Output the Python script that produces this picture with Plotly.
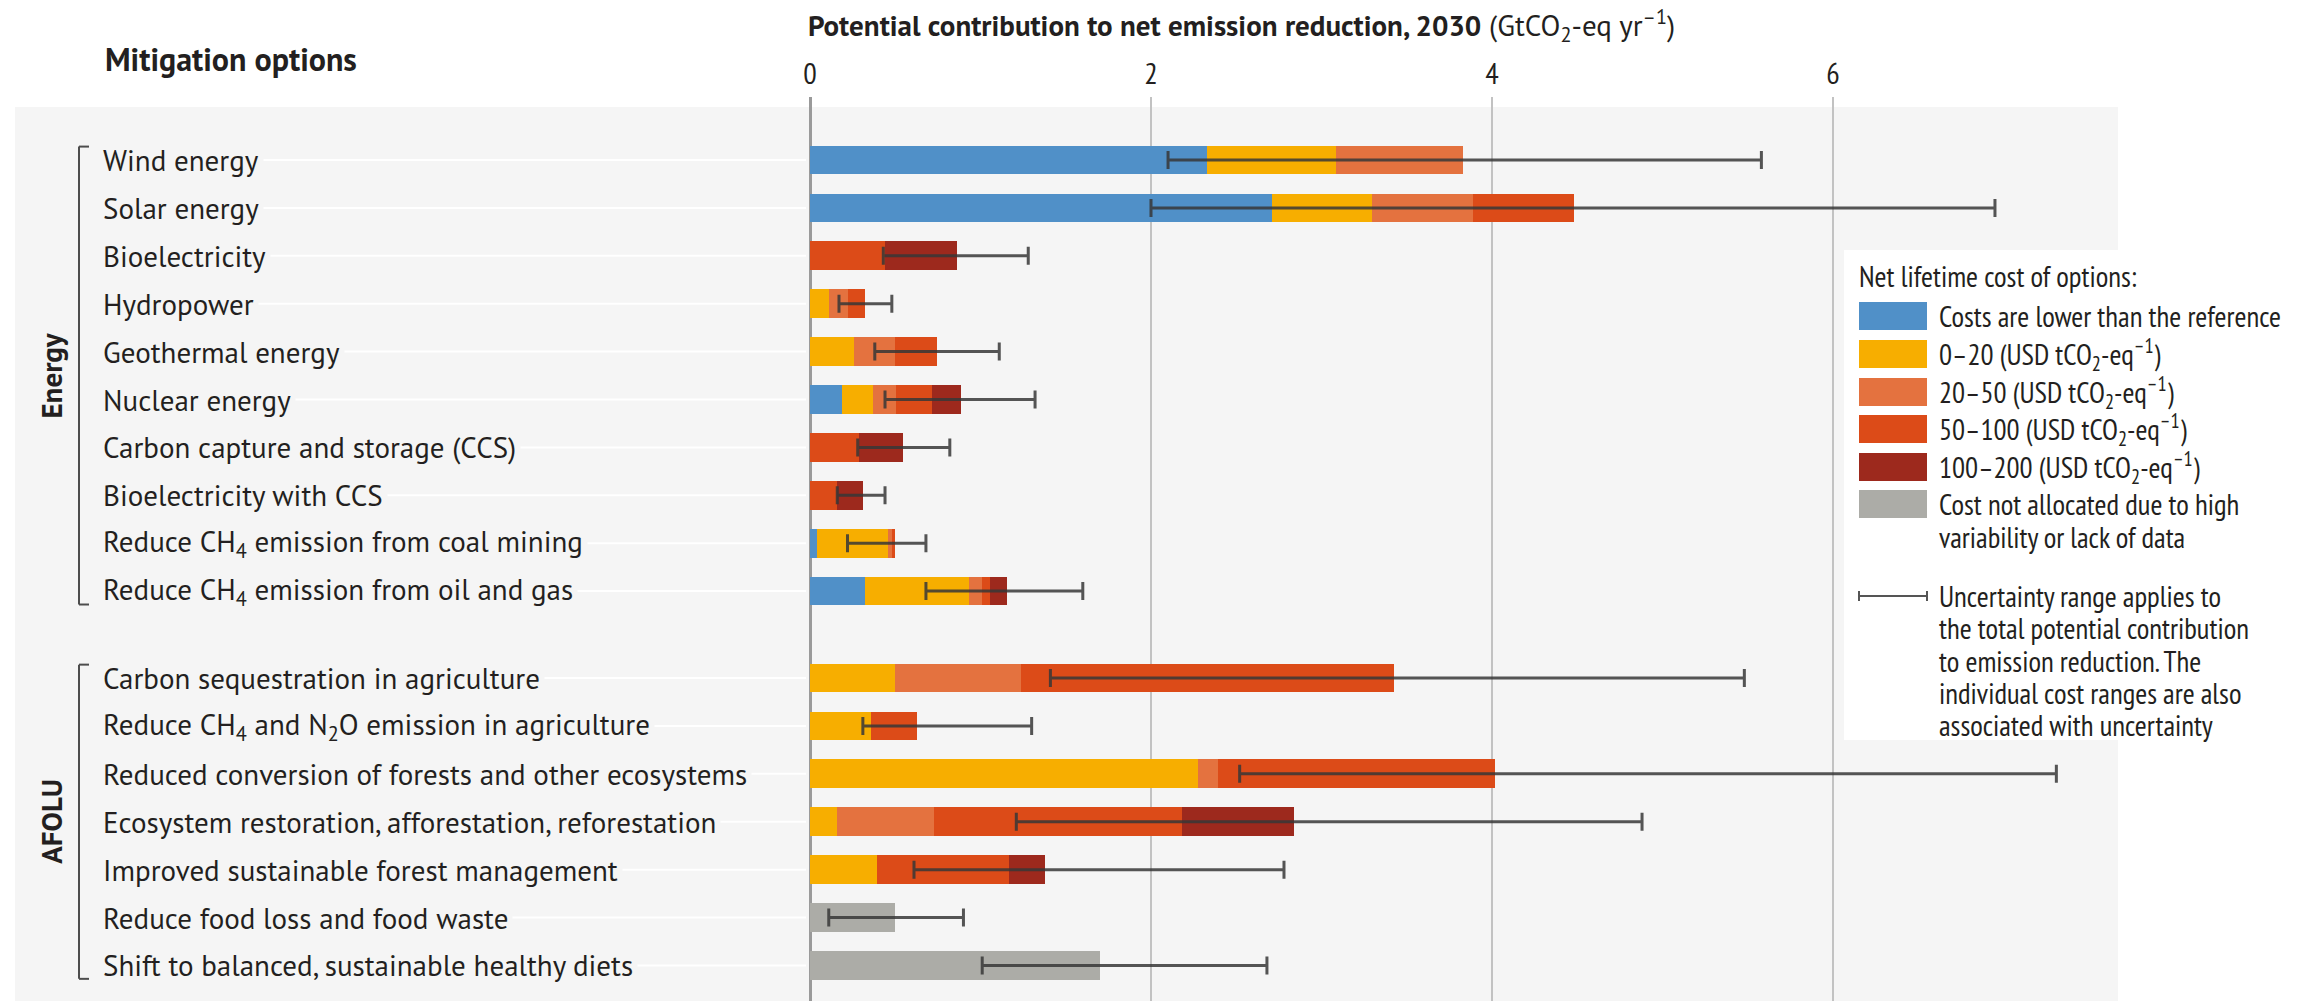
import plotly.graph_objects as go

# ---- data -------------------------------------------------------------
options = [
    "Wind energy",
    "Solar energy",
    "Bioelectricity",
    "Hydropower",
    "Geothermal energy",
    "Nuclear energy",
    "Carbon capture and storage (CCS)",
    "Bioelectricity with CCS",
    "Reduce CH<sub>4</sub> emission from coal mining",
    "Reduce CH<sub>4</sub> emission from oil and gas",
    "Carbon sequestration in agriculture",
    "Reduce CH<sub>4</sub> and N<sub>2</sub>O emission in agriculture",
    "Reduced conversion of forests and other ecosystems",
    "Ecosystem restoration, afforestation, reforestation",
    "Improved sustainable forest management",
    "Reduce food loss and food waste",
    "Shift to balanced, sustainable healthy diets",
]
sectors = ["Energy"] * 10 + ["AFOLU"] * 7

# cost-band contributions (GtCO2-eq/yr), stacked left to right
cost_lower = [2.33, 2.71, 0, 0, 0, 0.19, 0, 0, 0.04, 0.32, 0, 0, 0, 0, 0, 0, 0]
cost_0_20 = [0.755, 0.585, 0, 0.11, 0.26, 0.18, 0, 0, 0.42, 0.61, 0.50, 0.355, 2.275, 0.16, 0.39, 0, 0]
cost_20_50 = [0.745, 0.595, 0, 0.11, 0.24, 0.135, 0, 0, 0.02, 0.08, 0.735, 0, 0.12, 0.57, 0, 0, 0]
cost_50_100 = [0, 0.59, 0.44, 0.10, 0.245, 0.21, 0.285, 0.16, 0.02, 0.045, 2.19, 0.275, 1.62, 1.45, 0.78, 0, 0]
cost_100_200 = [0, 0, 0.42, 0, 0, 0.17, 0.26, 0.15, 0, 0.10, 0, 0, 0, 0.66, 0.21, 0, 0]
cost_na = [0, 0, 0, 0, 0, 0, 0, 0, 0, 0, 0, 0, 0, 0, 0, 0.50, 1.70]

# uncertainty range of the total potential
unc_low = [2.10, 2.00, 0.43, 0.17, 0.38, 0.44, 0.28, 0.16, 0.22, 0.68, 1.41, 0.31, 2.52, 1.21, 0.61, 0.11, 1.01]
unc_high = [5.58, 6.95, 1.28, 0.48, 1.11, 1.32, 0.82, 0.44, 0.68, 1.60, 5.48, 1.30, 7.31, 4.88, 2.78, 0.90, 2.68]

x_ticks = [0, 2, 4, 6]

band_names = [
    "Costs are lower than the reference",
    "0–20 (USD tCO<sub>2</sub>-eq<sup>–1</sup>)",
    "20–50 (USD tCO<sub>2</sub>-eq<sup>–1</sup>)",
    "50–100 (USD tCO<sub>2</sub>-eq<sup>–1</sup>)",
    "100–200 (USD tCO<sub>2</sub>-eq<sup>–1</sup>)",
    "Cost not allocated due to high",
]
band_values = [cost_lower, cost_0_20, cost_20_50, cost_50_100, cost_100_200, cost_na]
band_colors = ["#5090c8", "#f7ae00", "#e4723f", "#dc4b18", "#9d291d", "#acaca7"]

# ---- geometry helpers -----------------------------------------------
W, H = 2306, 1001
L, R, T, B = 800, 2118, 97, 1001
PX_PER_UNIT = 170.5
ROW_PX = 47.9
GROUP_GAP = 0.815
FIRST_ROW_PX = 160

FONT = "PT Sans, Fira Sans, Liberation Sans, sans-serif"
NARROW = "PT Sans Narrow, Fira Sans Condensed, Liberation Sans Narrow, Liberation Sans, sans-serif"
TXT = "#231f20"
BG = "#f5f5f5"


def px(x):
    return (x - L) / (R - L)


def py(y):
    return (B - y) / (B - T)


# row positions: one slot per option, plus a gap between sectors
rows = []
pos = 0.0
for i, s in enumerate(sectors):
    if i > 0 and s != sectors[i - 1]:
        pos += GROUP_GAP
    rows.append(pos)
    pos += 1

x_min = (L - 810) / PX_PER_UNIT
x_max = (R - 810) / PX_PER_UNIT
y_top = -(FIRST_ROW_PX - T) / ROW_PX
y_bot = (B - FIRST_ROW_PX) / ROW_PX

fig = go.Figure()

for name, vals, col in zip(band_names, band_values, band_colors):
    fig.add_trace(go.Bar(
        y=rows, x=vals, orientation="h", name=name,
        marker=dict(color=col, line=dict(width=0)),
        width=0.6, showlegend=False,
    ))

mid = [(a + b) / 2 for a, b in zip(unc_low, unc_high)]
half = [(b - a) / 2 for a, b in zip(unc_low, unc_high)]
fig.add_trace(go.Scatter(
    x=mid, y=rows, mode="markers",
    marker=dict(size=1, color="rgba(0,0,0,0)"),
    error_x=dict(type="data", array=half, symmetric=True,
                 color="rgba(55,55,55,0.85)", thickness=3, width=9),
    showlegend=False, hoverinfo="skip",
))

shapes = []
annotations = []

# grey panel and white legend box
shapes.append(dict(type="rect", xref="paper", yref="paper",
                   x0=px(15), x1=px(2118), y0=py(1001), y1=py(107),
                   fillcolor=BG, line=dict(width=0), layer="below"))
shapes.append(dict(type="rect", xref="paper", yref="paper",
                   x0=px(1844), x1=px(2306), y0=py(740), y1=py(250),
                   fillcolor="white", line=dict(width=0), layer="below"))

# faint leader lines and option labels
for r, lab in zip(rows, options):
    shapes.append(dict(type="line", xref="paper", yref="y",
                       x0=px(110), x1=px(806), y0=r, y1=r,
                       line=dict(color="rgba(255,255,255,0.95)", width=2),
                       layer="below"))
    annotations.append(dict(xref="paper", yref="y", x=px(98), y=r,
                            text=lab, showarrow=False, xanchor="left",
                            yanchor="middle", bgcolor=BG, borderpad=4,
                            font=dict(family=FONT, size=29, color=TXT)))

# sector brackets
for sec in ["Energy", "AFOLU"]:
    rr = [r for r, s in zip(rows, sectors) if s == sec]
    y0, y1 = rr[0] - 0.28, rr[-1] + 0.28
    xb = px(79)
    shapes.append(dict(type="line", xref="paper", yref="y", x0=xb, x1=xb,
                       y0=y0, y1=y1, line=dict(color="#4d4d4d", width=2)))
    for yy in (y0, y1):
        shapes.append(dict(type="line", xref="paper", yref="y", x0=xb,
                           x1=px(89), y0=yy, y1=yy,
                           line=dict(color="#4d4d4d", width=2)))
    annotations.append(dict(xref="paper", yref="y", x=px(51),
                            y=(rr[0] + rr[-1]) / 2, text="<b>%s</b>" % sec,
                            textangle=-90, showarrow=False,
                            xanchor="center", yanchor="middle",
                            font=dict(family=FONT, size=29, color=TXT)))

# headings
annotations.append(dict(xref="paper", yref="paper", x=px(103), y=py(59),
                        text="<b>Mitigation options</b>", showarrow=False,
                        xanchor="left", yanchor="middle",
                        font=dict(family=FONT, size=32, color=TXT)))
annotations.append(dict(xref="paper", yref="paper", x=px(806), y=py(26),
                        text="<b>Potential contribution to net emission reduction, 2030</b>"
                             " (GtCO<sub>2</sub>-eq yr<sup>–1</sup>)",
                        showarrow=False, xanchor="left", yanchor="middle",
                        font=dict(family=FONT, size=29, color=TXT)))

# cost legend
LX0, LX1, LTX = 1859, 1927, 1937
LEG_SIZE = 29
annotations.append(dict(xref="paper", yref="paper", x=px(1857), y=py(276),
                        text="Net lifetime cost of options:", showarrow=False,
                        xanchor="left", yanchor="middle",
                        font=dict(family=NARROW, size=LEG_SIZE, color=TXT)))
sw_centres = [316, 354, 392, 429, 467, 504]
for c, col, name in zip(sw_centres, band_colors, band_names):
    shapes.append(dict(type="rect", xref="paper", yref="paper",
                       x0=px(LX0), x1=px(LX1), y0=py(c + 14), y1=py(c - 14),
                       fillcolor=col, line=dict(width=0)))
    annotations.append(dict(xref="paper", yref="paper", x=px(LTX), y=py(c),
                            text=name, showarrow=False, xanchor="left",
                            yanchor="middle",
                            font=dict(family=NARROW, size=LEG_SIZE, color=TXT)))
annotations.append(dict(xref="paper", yref="paper", x=px(LTX), y=py(537),
                        text="variability or lack of data", showarrow=False,
                        xanchor="left", yanchor="middle",
                        font=dict(family=NARROW, size=LEG_SIZE, color=TXT)))

# uncertainty legend entry
ey = 596
shapes.append(dict(type="line", xref="paper", yref="paper", x0=px(LX0),
                   x1=px(LX1), y0=py(ey), y1=py(ey),
                   line=dict(color="#555555", width=2)))
for xx in (LX0, LX1):
    shapes.append(dict(type="line", xref="paper", yref="paper", x0=px(xx),
                       x1=px(xx), y0=py(ey - 5), y1=py(ey + 5),
                       line=dict(color="#555555", width=2)))
unc_lines = [
    "Uncertainty range applies to",
    "the total potential contribution",
    "to emission reduction. The",
    "individual cost ranges are also",
    "associated with uncertainty",
]
for k, line in enumerate(unc_lines):
    annotations.append(dict(xref="paper", yref="paper", x=px(LTX),
                            y=py(ey + k * 32.3), text=line, showarrow=False,
                            xanchor="left", yanchor="middle",
                            font=dict(family=NARROW, size=LEG_SIZE, color=TXT)))

fig.update_layout(
    width=W, height=H,
    margin=dict(l=L, r=W - R, t=T, b=H - B, pad=0),
    paper_bgcolor="white", plot_bgcolor="rgba(0,0,0,0)",
    barmode="stack", bargap=0,
    shapes=shapes, annotations=annotations,
    xaxis=dict(range=[x_min, x_max], side="top", tickvals=x_ticks,
               ticktext=[str(v) for v in x_ticks], showgrid=True,
               gridcolor="#c2c2c2", gridwidth=2, zeroline=True,
               zerolinecolor="#9a9a9a", zerolinewidth=3, showline=False,
               ticks="", ticklabelstandoff=6,
               tickfont=dict(family=NARROW, size=30, color=TXT)),
    yaxis=dict(range=[y_bot, y_top], showgrid=False, zeroline=False,
               showticklabels=False, showline=False),
    font=dict(family=FONT, color=TXT),
)

fig.write_html("out.html")
